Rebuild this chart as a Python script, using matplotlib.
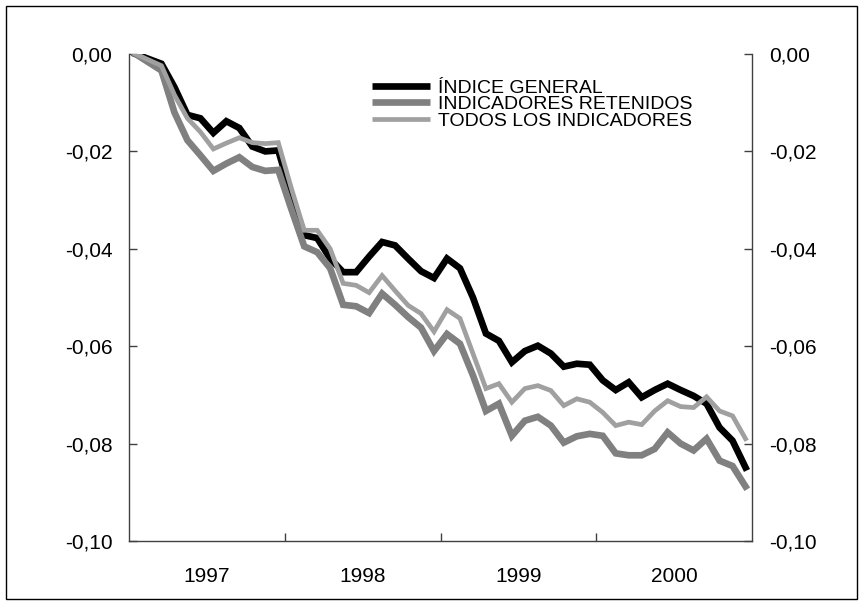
#!/usr/bin/env python3
import matplotlib
matplotlib.use('Agg')
import matplotlib.pyplot as plt
from matplotlib.patches import Rectangle
from matplotlib.ticker import FuncFormatter
import numpy as np

plt.rcParams['font.family'] = ['Liberation Sans', 'DejaVu Sans']

# Monthly series, Jan 1997 - Dec 2000
years = ['1997', '1998', '1999', '2000']
months_per_year = 12

indice_general = [
    0.0000, -0.0010, -0.0020, -0.0068, -0.0125, -0.0132, -0.0162, -0.0138,
    -0.0152, -0.0190, -0.0200, -0.0198, -0.0288, -0.0372, -0.0378, -0.0420,
    -0.0448, -0.0448, -0.0416, -0.0386, -0.0393, -0.0420, -0.0446, -0.0460,
    -0.0420, -0.0440, -0.0500, -0.0574, -0.0589, -0.0633, -0.0610, -0.0599,
    -0.0615, -0.0642, -0.0636, -0.0638, -0.0670, -0.0690, -0.0674, -0.0705,
    -0.0690, -0.0677, -0.0690, -0.0702, -0.0718, -0.0767, -0.0794, -0.0849,
]
indicadores_retenidos = [
    0.0000, -0.0017, -0.0034, -0.0120, -0.0177, -0.0208, -0.0240, -0.0225,
    -0.0212, -0.0232, -0.0240, -0.0238, -0.0318, -0.0395, -0.0407, -0.0440,
    -0.0515, -0.0518, -0.0532, -0.0492, -0.0515, -0.0540, -0.0562, -0.0610,
    -0.0575, -0.0595, -0.0660, -0.0733, -0.0718, -0.0784, -0.0753, -0.0745,
    -0.0763, -0.0798, -0.0785, -0.0780, -0.0784, -0.0820, -0.0824, -0.0824,
    -0.0811, -0.0777, -0.0800, -0.0814, -0.0790, -0.0835, -0.0846, -0.0888,
]
todos_indicadores = [
    0.0000, -0.0012, -0.0024, -0.0084, -0.0132, -0.0160, -0.0195, -0.0183,
    -0.0172, -0.0182, -0.0184, -0.0182, -0.0275, -0.0362, -0.0362, -0.0400,
    -0.0471, -0.0475, -0.0490, -0.0455, -0.0486, -0.0516, -0.0533, -0.0570,
    -0.0525, -0.0543, -0.0615, -0.0687, -0.0677, -0.0715, -0.0687, -0.0681,
    -0.0691, -0.0722, -0.0708, -0.0715, -0.0736, -0.0763, -0.0756, -0.0761,
    -0.0733, -0.0712, -0.0724, -0.0726, -0.0704, -0.0733, -0.0743, -0.0790,
]
labels = ['ÍNDICE GENERAL', 'INDICADORES RETENIDOS', 'TODOS LOS INDICADORES']

W, H = 863, 605
fig = plt.figure(figsize=(W / 100, H / 100), dpi=100)
ax = fig.add_axes([129 / W, 1 - 541 / H, (752 - 129) / W, (541 - 54) / H])

n = len(indice_general)
x = np.arange(n) + 0.5  # categories sit between tick marks

ax.plot(x, indice_general, color='black', lw=4.8, solid_joinstyle='miter', label=labels[0], zorder=3)
ax.plot(x, indicadores_retenidos, color='#808080', lw=4.8, solid_joinstyle='miter', label=labels[1], zorder=4)
ax.plot(x, todos_indicadores, color='#a0a0a0', lw=3.4, solid_joinstyle='miter', label=labels[2], zorder=5)

ax.set_xlim(0, n)
ax.set_ylim(-0.10, 0.0)

# y axis on both sides
yt = np.linspace(-0.10, 0.0, 6)
ax.set_yticks(yt)
ax.yaxis.set_major_formatter(FuncFormatter(lambda v, p: f"{v:.2f}".replace('.', ',').replace('-0,00', '0,00')))
ax.tick_params(axis='y', which='major', direction='in', length=6, width=1, color='#404040',
               labelsize=15, pad=12, left=True, right=True, labelleft=True, labelright=True)

# year ticks between years, labels centred in each year
year_edges = [months_per_year * k for k in range(1, len(years))]
ax.set_xticks(year_edges)
ax.set_xticklabels([])
ax.set_xticks([months_per_year * k + months_per_year / 2 for k in range(len(years))], minor=True)
ax.set_xticklabels(years, minor=True)
ax.tick_params(axis='x', which='major', direction='in', length=6, width=1, color='#404040')
ax.tick_params(axis='x', which='minor', length=0, labelsize=15, pad=19)

for side in ['left', 'right', 'bottom']:
    ax.spines[side].set_color('#404040')
    ax.spines[side].set_linewidth(1.0)
ax.spines['top'].set_visible(False)

leg = ax.legend(loc='upper left', bbox_to_anchor=(372 / W, 1 - 79 / H), bbox_transform=fig.transFigure,
                frameon=False, fontsize=14, handlelength=3.0, handletextpad=0.4,
                labelspacing=-0.05, borderpad=0, borderaxespad=0)
for line in leg.get_lines():
    line.set_solid_capstyle('butt')

# outer frame round the whole chart
fig.patches.append(Rectangle((6 / W, 6 / H), 851 / W, 593 / H, transform=fig.transFigure,
                             fill=False, edgecolor='black', lw=1.0))

fig.savefig('out.png', dpi=100)
